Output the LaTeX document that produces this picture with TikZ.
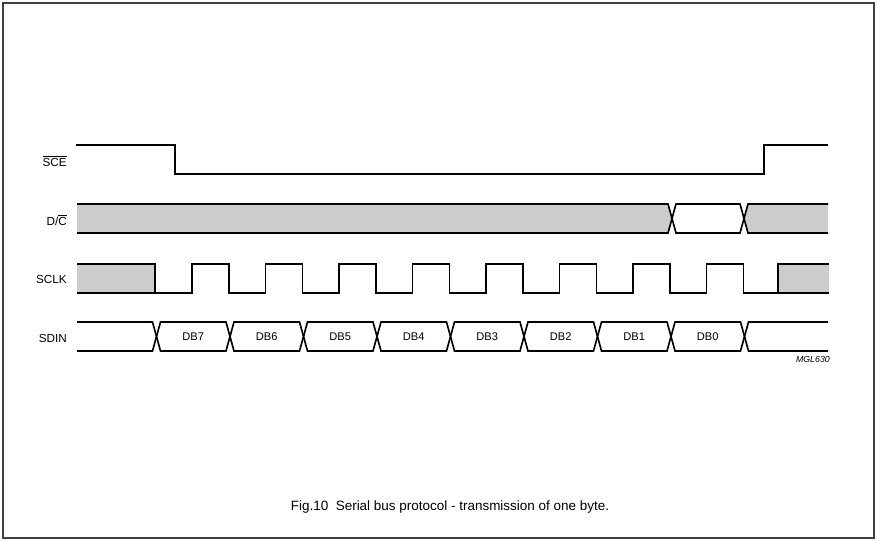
\documentclass[tikz,border=0pt]{standalone}
\usepackage{fontspec}
\setmainfont{Liberation Sans}
\usetikzlibrary{positioning}
\tikzset{wave/.style={line width=1.4pt, line join=miter},
        busfill/.style={fill=gray!40, draw=none},
        siglabel/.style={anchor=east, inner sep=0pt, font=\fontsize{10}{12}\selectfont},
        bitlabel/.style={inner sep=0pt, font=\fontsize{9.5}{11}\selectfont},
        frame/.style={draw=black!75, line width=1.1pt},
        }

\begin{document}
\begin{tikzpicture}[x=0.03cm, y=-0.03cm]
    \useasboundingbox (0,0) rectangle (877,541);
    \draw[frame] (3,3) rectangle (874,538);

    % signal names
    \node[siglabel] (sce)  at (67,161) {$\overline{\mbox{SCE}}$};
    \node[siglabel] (dc)   at (67,220) {D/$\overline{\mbox{C}}$};
    \node[siglabel] (sclk) at (67,279) {SCLK};
    \node[siglabel] (sdin) at (67,338) {SDIN};

    % SCE
    \draw[wave] (76,145) -- (175,145) -- (175,174) -- (764,174) -- (764,145) -- (828,145);

    % D/C
    \fill[busfill] (77,204) -- (668,204) -- (672,218.5) -- (668,233) -- (77,233) -- cycle;
    \fill[busfill] (828,204) -- (748,204) -- (744,218.5) -- (748,233) -- (828,233) -- cycle;
    \draw[wave] (77,204) -- (668,204) -- (672,218.5) -- (668,233) -- (77,233);
    \draw[wave] (672,218.5) -- (676,204) -- (740,204) -- (744,218.5) -- (740,233) -- (676,233) -- cycle;
    \draw[wave] (828,204) -- (748,204) -- (744,218.5) -- (748,233) -- (828,233);

    % SCLK
    \fill[busfill] (77,264) rectangle (155,293);
    \fill[busfill] (778,264) rectangle (829,293);
    \draw[wave] (77,293) -- (155,293);
    \draw[wave] (778,293) -- (829,293);
    \draw[wave] (77,264) -- (155,264) -- (155,293)
        foreach \i in {0,...,7} {
            -- ({192+73.5*\i},293) -- ({192+73.5*\i},264)
            -- ({229+73.5*\i},264) -- ({229+73.5*\i},293)
        }
        -- (778,293) -- (778,264) -- (829,264);

    % SDIN
    \draw[wave] (77,322) -- (152.5,322) -- (156.5,336.5) -- (152.5,351) -- (77,351);
    \foreach \bit [count=\i from 0] in {7,6,5,4,3,2,1,0} {
        \pgfmathsetmacro\xa{156.5+73.5*\i}
        \pgfmathsetmacro\xb{\xa+73.5}
        \draw[wave] (\xa,336.5) -- (\xa+4,322) -- (\xb-4,322) -- (\xb,336.5)
            -- (\xb-4,351) -- (\xa+4,351) -- cycle;
        \node[bitlabel] (db\bit) at ({(\xa+\xb)/2},337) {DB\bit};
    }
    \draw[wave] (828,322) -- (748.5,322) -- (744.5,336.5) -- (748.5,351) -- (828,351);

    \node[anchor=east, inner sep=0pt, font=\fontsize{7.5}{9}\itshape] (mgl) at (830,359) {MGL630};

    % caption
    \node[inner sep=0pt, font=\fontsize{11.5}{14}\selectfont] (caption) at (450,507)
        {Fig.10\ \ Serial bus protocol - transmission of one byte.};
\end{tikzpicture}
\end{document}
